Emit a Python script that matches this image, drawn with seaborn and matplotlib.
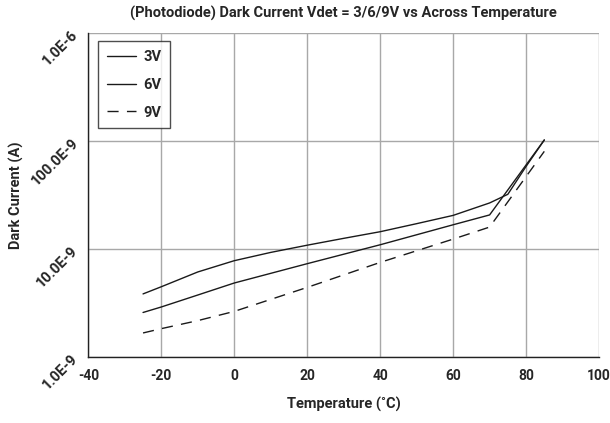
import matplotlib
matplotlib.use("Agg")
import matplotlib.pyplot as plt
import matplotlib.transforms as mtransforms
import seaborn as sns
import pandas as pd
from matplotlib.ticker import FixedLocator

# temperatures (C) and dark current (A)
temp_3v = [-25, -20, -10, 0, 10, 20, 30, 40, 50, 60, 70, 75, 80, 85]
cur_3v = [3.82e-9, 4.45e-9, 6.1e-9, 7.76e-9, 9.26e-9, 1.08e-8, 1.25e-8, 1.44e-8,
          1.71e-8, 2.04e-8, 2.66e-8, 3.2e-8, 5.8e-8, 1.02e-7]

temp_6v = [-25, -20, -10, 0, 20, 40, 60, 70, 85]
cur_6v = [2.57e-9, 2.89e-9, 3.73e-9, 4.82e-9, 7.28e-9, 1.09e-8, 1.67e-8, 2.06e-8, 1.02e-7]

temp_9v = [-25, -20, -10, 0, 20, 40, 60, 70, 85]
cur_9v = [1.66e-9, 1.82e-9, 2.16e-9, 2.63e-9, 4.39e-9, 7.48e-9, 1.23e-8, 1.59e-8, 8.0e-8]

series_names = ["3V", "6V", "9V"]
y_ticks = [1e-9, 1e-8, 1e-7, 1e-6]
y_tick_labels = ["1.0E-9", "10.0E-9", "100.0E-9", "1.0E-6"]
x_ticks = [-40, -20, 0, 20, 40, 60, 80, 100]

df = pd.concat([
    pd.DataFrame({"temp": temp_3v, "current": cur_3v, "series": "3V"}),
    pd.DataFrame({"temp": temp_6v, "current": cur_6v, "series": "6V"}),
    pd.DataFrame({"temp": temp_9v, "current": cur_9v, "series": "9V"}),
])

sns.set_style("white")
plt.rcParams["font.family"] = ["Roboto", "DejaVu Sans"]
plt.rcParams["font.weight"] = "bold"
fs = 10.5

fig = plt.figure(figsize=(6.1, 4.23), dpi=100)
ax = fig.add_axes([0.1448, 0.1567, 0.8372, 0.7653])

sns.lineplot(data=df, x="temp", y="current", hue="series", style="series",
             hue_order=series_names, style_order=series_names,
             palette=["#1a1a1a", "#1a1a1a", "#1a1a1a"],
             dashes={"3V": "", "6V": "", "9V": (8, 6)},
             linewidth=1.0, estimator=None, sort=False, ax=ax)

ax.set_yscale("log")
ax.set_ylim(1e-9, 1e-6)
ax.set_xlim(-40, 100)
ax.xaxis.set_major_locator(FixedLocator(x_ticks))
ax.yaxis.set_major_locator(FixedLocator(y_ticks))
ax.yaxis.set_minor_locator(FixedLocator([]))
ax.set_yticklabels(y_tick_labels, rotation=45, ha="right", va="center",
                   rotation_mode="anchor", fontsize=fs, fontweight="bold")
ax.set_xticklabels([str(t) for t in x_ticks], fontsize=10, fontweight="bold")
# keep the "100" label inside the figure edge
last = ax.get_xticklabels()[-1]
last.set_transform(last.get_transform() +
                   mtransforms.ScaledTranslation(-4 / 100, 0, fig.dpi_scale_trans))

ax.grid(True, color="#a8a8a8", linewidth=1.0)
ax.set_axisbelow(True)
for side in ["top", "right"]:
    ax.spines[side].set_visible(False)
for side in ["left", "bottom"]:
    ax.spines[side].set_color("#222222")
    ax.spines[side].set_linewidth(1.0)
ax.tick_params(axis="both", direction="out", length=4, width=1, color="#222222", pad=5)

ax.set_xlabel("Temperature (˚C)", fontsize=fs, fontweight="bold", labelpad=10)
ax.set_ylabel("Dark Current (A)", fontsize=fs, fontweight="bold", labelpad=3)
ax.set_title("(Photodiode) Dark Current Vdet = 3/6/9V vs Across Temperature",
             fontsize=fs, fontweight="bold", pad=11)

leg = ax.legend(title=None, loc="upper left", bbox_to_anchor=(0.019, 0.975),
                borderaxespad=0, frameon=True, fancybox=False, handlelength=2.0,
                handletextpad=0.5, labelspacing=0.95, borderpad=0.6,
                prop={"weight": "bold", "size": fs})
leg.get_frame().set_edgecolor("#222222")
leg.get_frame().set_linewidth(1.0)

fig.savefig("out.png", dpi=100)
